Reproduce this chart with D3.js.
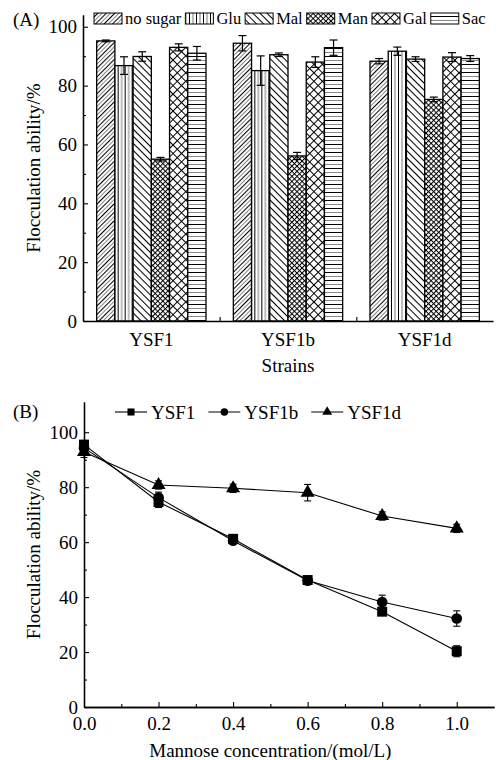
<!DOCTYPE html>
<html>
<head>
<meta charset="utf-8">
<script src="https://cdn.jsdelivr.net/npm/d3@7"></script>
<style>
  body { margin: 0; background: #fff; }
  svg { display: block; }
  text { font-family: "Liberation Serif", "DejaVu Serif", serif; fill: #000; }
</style>
</head>
<body>
<svg id="chart" width="501" height="760"></svg>
<script>
// Panel A data: flocculation ability with different sugars
const strains = ['YSF1', 'YSF1b', 'YSF1d'];
const sugars = ['no sugar', 'Glu', 'Mal', 'Man', 'Gal', 'Sac'];
const barValues = [
  [95.2, 86.8, 89.9, 55.0, 93.0, 91.0],
  [94.4, 85.1, 90.5, 56.1, 88.0, 92.9],
  [88.3, 91.7, 89.0, 75.3, 89.7, 89.2]
];
const barErrors = [
  [0.3, 3.0, 1.6, 0.6, 1.2, 2.3],
  [2.6, 5.0, 0.6, 1.2, 1.8, 2.6],
  [0.9, 1.4, 0.8, 0.8, 1.5, 1.0]
];
const yTicksA = [0, 20, 40, 60, 80, 100];

// Panel B data: mannose concentration series
const mannose = [0.0, 0.2, 0.4, 0.6, 0.8, 1.0];
const lineSeries = ['YSF1', 'YSF1b', 'YSF1d'];
const lineValues = [
  [95.5, 74.6, 61.2, 46.2, 34.7, 20.3],
  [94.3, 76.2, 60.5, 46.0, 38.2, 32.2],
  [92.8, 80.8, 79.6, 78.0, 69.5, 65.0]
];
const lineErrors = [
  [1.0, 2.0, 1.0, 1.0, 1.2, 2.0],
  [1.0, 2.0, 1.0, 1.0, 2.5, 2.8],
  [2.0, 1.5, 1.5, 3.0, 1.5, 1.5]
];
const xTicksB = [0, 0.2, 0.4, 0.6, 0.8, 1.0];
const yTicksB = [0, 20, 40, 60, 80, 100];

const svg = d3.select('#chart');
const defs = svg.append('defs');

// Hatch patterns for the six sugars
function linePattern(id, size, angle, lines) {
  const p = defs.append('pattern')
    .attr('id', id)
    .attr('patternUnits', 'userSpaceOnUse')
    .attr('width', size).attr('height', size)
    .attr('patternTransform', 'rotate(' + angle + ')');
  p.append('rect').attr('width', size).attr('height', size).attr('fill', '#fff');
  lines.forEach(l => {
    p.append('line')
      .attr('x1', l.x1).attr('y1', l.y1).attr('x2', l.x2).attr('y2', l.y2)
      .attr('stroke', l.c || '#000').attr('stroke-width', l.w || 1);
  });
}
// no sugar: dense "/" lines, black and grey
linePattern('p0', 6, -45, [
  {x1: 0, y1: 0.5, x2: 6, y2: 0.5, w: 1.1},
  {x1: 0, y1: 3.5, x2: 6, y2: 3.5, c: '#888', w: 1}
]);
// Glu: vertical lines
linePattern('p1', 7, 0, [
  {x1: 0.5, y1: 0, x2: 0.5, y2: 7, w: 1},
  {x1: 4, y1: 0, x2: 4, y2: 7, c: '#777', w: 1}
]);
// Mal: "\" lines, wider
linePattern('p2', 5, 45, [
  {x1: 0, y1: 0.5, x2: 5, y2: 0.5, w: 1.1}
]);
// Man: dense cross hatch
linePattern('p3', 3.6, 45, [
  {x1: 0, y1: 0.5, x2: 3.6, y2: 0.5, w: 1},
  {x1: 0.5, y1: 0, x2: 0.5, y2: 3.6, w: 1}
]);
// Gal: wide cross hatch
linePattern('p4', 6, 45, [
  {x1: 0, y1: 0.5, x2: 6, y2: 0.5, w: 1},
  {x1: 0.5, y1: 0, x2: 0.5, y2: 6, w: 1}
]);
// Sac: horizontal lines
linePattern('p5', 8, 0, [
  {x1: 0, y1: 0.5, x2: 8, y2: 0.5, w: 1},
  {x1: 0, y1: 4.5, x2: 8, y2: 4.5, c: '#888', w: 1}
]);

// ---------- Panel A ----------
const ax = {left: 83, right: 493, top: 15, bottom: 321};
const x0 = d3.scaleBand().domain(strains).range([ax.left, ax.right])
  .paddingInner(0.2).paddingOuter(0.1);
const x1 = d3.scaleBand().domain(sugars).range([0, x0.bandwidth()]);
const yA = d3.scaleLinear().domain([0, 104]).range([ax.bottom, ax.top]);

const gA = svg.append('g');

const groups = gA.selectAll('g.grp')
  .data(strains)
  .enter().append('g')
    .attr('transform', d => 'translate(' + x0(d) + ',0)');

groups.selectAll('rect')
  .data((d, i) => sugars.map((s, j) => ({s: s, j: j, v: barValues[i][j], e: barErrors[i][j]})))
  .enter().append('rect')
    .attr('x', d => x1(d.s))
    .attr('y', d => yA(d.v))
    .attr('width', x1.bandwidth())
    .attr('height', d => yA(0) - yA(d.v))
    .attr('fill', d => 'url(#p' + d.j + ')')
    .attr('stroke', '#000')
    .attr('stroke-width', 1.3);

// error bars
const errA = groups.selectAll('g.err')
  .data((d, i) => sugars.map((s, j) => ({s: s, v: barValues[i][j], e: barErrors[i][j]})))
  .enter().append('g')
    .attr('stroke', '#000').attr('stroke-width', 1.2);
errA.append('line')
  .attr('x1', d => x1(d.s) + x1.bandwidth() / 2)
  .attr('x2', d => x1(d.s) + x1.bandwidth() / 2)
  .attr('y1', d => yA(d.v - d.e)).attr('y2', d => yA(d.v + d.e));
[1, -1].forEach(sign => {
  errA.append('line')
    .attr('x1', d => x1(d.s) + x1.bandwidth() / 2 - 4)
    .attr('x2', d => x1(d.s) + x1.bandwidth() / 2 + 4)
    .attr('y1', d => yA(d.v + sign * d.e)).attr('y2', d => yA(d.v + sign * d.e));
});

// y axis A
gA.append('g')
  .attr('transform', 'translate(' + ax.left + ',0)')
  .call(d3.axisLeft(yA).tickValues(yTicksA).tickSize(-5).tickSizeOuter(0).tickPadding(6));
gA.append('g')
  .attr('transform', 'translate(' + ax.left + ',0)')
  .call(d3.axisLeft(yA).tickValues([10, 30, 50, 70, 90]).tickSize(-3).tickSizeOuter(0).tickFormat(''));

// x axis A: boundary ticks plus strain labels
const xSteps = d3.scaleLinear().domain([0, 3]).range([ax.left, ax.right]);
gA.append('g')
  .attr('transform', 'translate(0,' + ax.bottom + ')')
  .call(d3.axisBottom(xSteps).tickValues([1, 2]).tickSize(-4).tickSizeOuter(0).tickFormat(''));
gA.append('g')
  .attr('transform', 'translate(0,' + ax.bottom + ')')
  .call(d3.axisBottom(x0).tickSize(0).tickPadding(12))
  .call(g => g.select('.domain').remove());

// ---------- Panel B ----------
const bx = {left: 84, right: 494, top: 402, bottom: 707};
const xB = d3.scaleLinear().domain([0, 1.1]).range([bx.left, bx.right]);
const yB = d3.scaleLinear().domain([0, 111]).range([bx.bottom, bx.top]);
const gB = svg.append('g');

const line = d3.line().x(d => xB(d[0])).y(d => yB(d[1]));
const symbols = [d3.symbolSquare, d3.symbolCircle, d3.symbolTriangle];
const symbolSizes = [100, 90, 85];

lineSeries.forEach((name, i) => {
  const pts = mannose.map((m, k) => [m, lineValues[i][k], lineErrors[i][k]]);
  gB.append('path')
    .datum(pts)
    .attr('d', line)
    .attr('fill', 'none')
    .attr('stroke', '#000')
    .attr('stroke-width', 1.1);
  const eb = gB.append('g').attr('stroke', '#000').attr('stroke-width', 1.1);
  eb.selectAll('line.v').data(pts).enter().append('line')
    .attr('x1', d => xB(d[0])).attr('x2', d => xB(d[0]))
    .attr('y1', d => yB(d[1] - d[2])).attr('y2', d => yB(d[1] + d[2]));
  [1, -1].forEach(sign => {
    eb.selectAll('line.c' + sign).data(pts).enter().append('line')
      .attr('x1', d => xB(d[0]) - 3.5).attr('x2', d => xB(d[0]) + 3.5)
      .attr('y1', d => yB(d[1] + sign * d[2])).attr('y2', d => yB(d[1] + sign * d[2]));
  });
  gB.append('g').selectAll('path')
    .data(pts).enter().append('path')
      .attr('d', d3.symbol().type(symbols[i]).size(symbolSizes[i]))
      .attr('transform', d => 'translate(' + xB(d[0]) + ',' + yB(d[1]) + ')')
      .attr('fill', '#000');
});

// axes B
gB.append('g')
  .attr('transform', 'translate(' + bx.left + ',0)')
  .call(d3.axisLeft(yB).tickValues(yTicksB).tickSize(-5).tickSizeOuter(0).tickPadding(6));
gB.append('g')
  .attr('transform', 'translate(' + bx.left + ',0)')
  .call(d3.axisLeft(yB).tickValues([10, 30, 50, 70, 90]).tickSize(-3).tickSizeOuter(0).tickFormat(''));
gB.append('g')
  .attr('transform', 'translate(0,' + bx.bottom + ')')
  .call(d3.axisBottom(xB).tickValues(xTicksB).tickSize(-5).tickSizeOuter(0).tickPadding(10).tickFormat(d3.format('.1f')));
gB.append('g')
  .attr('transform', 'translate(0,' + bx.bottom + ')')
  .call(d3.axisBottom(xB).tickValues([0.1, 0.3, 0.5, 0.7, 0.9]).tickSize(-3).tickSizeOuter(0).tickFormat(''));

// shared axis styling
svg.selectAll('.domain').attr('stroke', '#000').attr('stroke-width', 1.3);
svg.selectAll('.tick line').attr('stroke', '#000').attr('stroke-width', 1.1);
svg.selectAll('.tick text').attr('font-size', 19).attr('font-family', null);

// ---------- titles and labels ----------
svg.append('text').attr('x', 13).attr('y', 26).attr('font-size', 19).text('(A)');
svg.append('text').attr('x', 13).attr('y', 418).attr('font-size', 19).text('(B)');

svg.append('text')
  .attr('transform', 'translate(40,' + (ax.top + ax.bottom) / 2 + ') rotate(-90)')
  .attr('text-anchor', 'middle').attr('font-size', 19)
  .text('Flocculation ability/%');
svg.append('text')
  .attr('transform', 'translate(40,' + (bx.top + bx.bottom) / 2 + ') rotate(-90)')
  .attr('text-anchor', 'middle').attr('font-size', 19)
  .text('Flocculation ability/%');

svg.append('text')
  .attr('x', (ax.left + ax.right) / 2).attr('y', 372)
  .attr('text-anchor', 'middle').attr('font-size', 19)
  .text('Strains');
svg.append('text')
  .attr('x', (xB(0) + xB(1)) / 2).attr('y', 757)
  .attr('text-anchor', 'middle').attr('font-size', 19)
  .text('Mannose concentration/(mol/L)');

// legend A
let lx = 94;
sugars.forEach((s, j) => {
  svg.append('rect')
    .attr('x', lx).attr('y', 13).attr('width', 28).attr('height', 11)
    .attr('fill', 'url(#p' + j + ')').attr('stroke', '#000').attr('stroke-width', 1);
  const t = svg.append('text')
    .attr('x', lx + 31).attr('y', 24).attr('font-size', 16.5)
    .text(s);
  lx += 31 + t.node().getComputedTextLength() + 4;
});

// legend B
let bxl = 115;
lineSeries.forEach((name, i) => {
  svg.append('line')
    .attr('x1', bxl).attr('x2', bxl + 32).attr('y1', 412).attr('y2', 412)
    .attr('stroke', '#000').attr('stroke-width', 1.1);
  svg.append('path')
    .attr('d', d3.symbol().type(symbols[i]).size(symbolSizes[i] * 0.5))
    .attr('transform', 'translate(' + (bxl + 16) + ',412)')
    .attr('fill', '#000');
  const t = svg.append('text')
    .attr('x', bxl + 36).attr('y', 418.5).attr('font-size', 19)
    .text(name);
  bxl += 36 + t.node().getComputedTextLength() + 13;
});
</script>
</body>
</html>
